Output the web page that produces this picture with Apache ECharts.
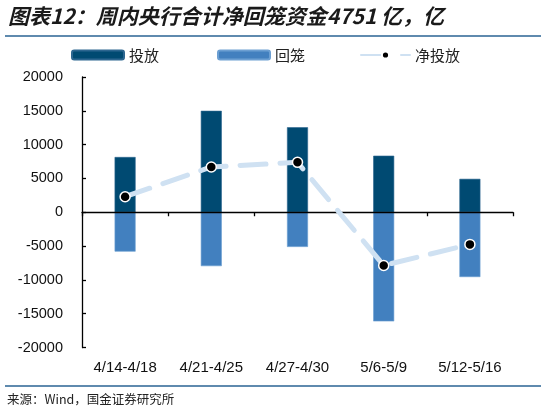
<!DOCTYPE html>
<html>
<head>
<meta charset="utf-8">
<script src="https://cdn.jsdelivr.net/npm/echarts@6/dist/echarts.min.js"></script>
<style>
html,body{margin:0;padding:0;background:#fff;}
#c{width:541px;height:417px;}
</style>
</head>
<body>
<div id="c"></div>
<script>
const categories = ['4/14-4/18', '4/21-4/25', '4/27-4/30', '5/6-5/9', '5/12-5/16'];
const injection = [8170, 15000, 12570, 8360, 4940];      // 投放
const withdrawal = [-5820, -7970, -5130, -16140, -9580]; // 回笼
const netInjection = [2300, 6700, 7380, -7870, -4751];   // 净投放
const yTicks = { min: -20000, max: 20000, interval: 5000 };

const chart = echarts.init(document.getElementById('c'), null, {renderer: 'canvas'});
const latin = '"Liberation Sans", Arial, sans-serif';
const cjk = '"Noto Sans CJK SC", sans-serif';
const legendText = {fontFamily: cjk, fontSize: 15, color: '#222', lineHeight: 18};

chart.setOption({
  animation: false,
  backgroundColor: '#fff',
  title: {
    text: '图表12：周内央行合计净回笼资金4751 亿，亿',
    left: 8, top: 6, padding: 0,
    textStyle: {fontFamily: cjk, fontSize: 21, fontWeight: 'bold', fontStyle: 'italic', color: '#1a1a1a'}
  },
  graphic: [
    {type: 'line', shape: {x1: 5, y1: 36, x2: 541, y2: 36}, style: {stroke: '#2a6393', lineWidth: 1.5}},
    {type: 'line', shape: {x1: 5, y1: 386, x2: 541, y2: 386}, style: {stroke: '#2a6393', lineWidth: 1.5}},
    {type: 'text', left: 7, top: 393, style: {text: '来源：Wind，国金证券研究所', font: '12.5px "Noto Sans CJK SC", sans-serif', fill: '#222'}}
  ],
  legend: [
    {data: ['投放'], left: 71, top: 46, itemWidth: 52, itemHeight: 9, padding: 0, textStyle: legendText},
    {data: ['回笼'], left: 217, top: 46, itemWidth: 52, itemHeight: 9, padding: 0, textStyle: legendText},
    {data: ['净投放'], left: 360, top: 46, itemWidth: 49, itemHeight: 9, padding: 0, textStyle: legendText}
  ],
  grid: {left: 82, right: 28, top: 77, bottom: 69.5, containLabel: false},
  xAxis: [
    {
      type: 'category', data: categories, position: 'bottom',
      axisLine: {show: false, onZero: false},
      axisTick: {show: false},
      axisLabel: {margin: 13, fontFamily: latin, fontSize: 15, color: '#111', interval: 0}
    },
    {
      type: 'category', data: categories, position: 'top', z: 5,
      axisLine: {show: true, onZero: true, lineStyle: {color: '#000', width: 1.3}},
      axisTick: {show: true, inside: true, length: 4, lineStyle: {color: '#000', width: 1.3}},
      axisLabel: {show: false}
    }
  ],
  yAxis: {
    type: 'value', min: yTicks.min, max: yTicks.max, interval: yTicks.interval,
    splitLine: {show: false},
    axisLine: {show: true, lineStyle: {color: '#000', width: 1.3}},
    axisTick: {show: true, inside: true, length: 4, lineStyle: {color: '#000', width: 1.3}},
    axisLabel: {margin: 19, fontFamily: latin, fontSize: 14.5, color: '#111', formatter: v => String(v)}
  },
  series: [
    {
      name: '投放', type: 'bar', data: injection, barWidth: 21, barGap: '-100%',
      itemStyle: {color: '#004a72', borderColor: '#2d6690', borderWidth: 0.6}
    },
    {
      name: '回笼', type: 'bar', data: withdrawal, barWidth: 21,
      itemStyle: {color: '#4280bf', borderColor: '#6c9fd2', borderWidth: 0.6}
    },
    {
      name: '净投放', type: 'line', data: netInjection, z: 20,
      symbol: 'circle', symbolSize: 10,
      lineStyle: {color: '#cfe1f2', width: 5, type: [26, 14], cap: 'round'},
      itemStyle: {color: '#000', borderColor: '#fff', borderWidth: 1.5}
    }
  ]
});
</script>
</body>
</html>
